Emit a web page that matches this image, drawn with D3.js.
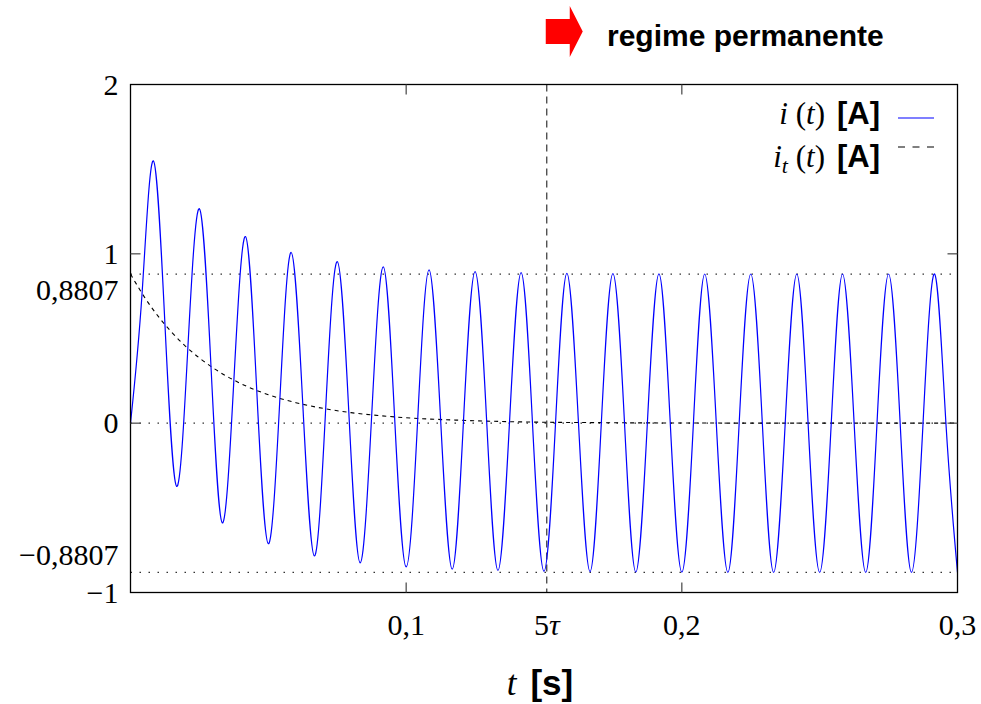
<!DOCTYPE html>
<html>
<head>
<meta charset="utf-8">
<script src="https://cdn.jsdelivr.net/npm/d3@7"></script>
<style>
  body { margin: 0; background: #fff; }
  .num { font-family: "Liberation Serif", "DejaVu Serif", serif; font-size: 30px; fill: #000; }
  .sansb { font-family: "Liberation Sans", "DejaVu Sans", sans-serif; font-weight: bold; }
</style>
</head>
<body>
<div id="chart"></div>
<script>
// Data
// i(t): samples every quarter period (60 Hz), [t (s), i (A)]
const currentPts = [
  [0, 0], [0.0042, 0.767], [0.0083, 1.549], [0.0125, 0.582],
  [0.0167, -0.373], [0.0208, 0.442], [0.025, 1.266], [0.0292, 0.335],
  [0.0333, -0.589], [0.0375, 0.254], [0.0417, 1.102], [0.0458, 0.193],
  [0.05, -0.712], [0.0542, 0.147], [0.0583, 1.008], [0.0625, 0.111],
  [0.0667, -0.784], [0.0708, 0.084], [0.075, 0.954], [0.0792, 0.064],
  [0.0833, -0.825], [0.0875, 0.049], [0.0917, 0.923], [0.0958, 0.037],
  [0.1, -0.849], [0.1042, 0.028], [0.1083, 0.905], [0.1125, 0.021],
  [0.1167, -0.862], [0.1208, 0.016], [0.125, 0.895], [0.1292, 0.012],
  [0.1333, -0.870], [0.1375, 0.009], [0.1417, 0.889], [0.1458, 0.007],
  [0.15, -0.875], [0.1542, 0.005], [0.1583, 0.885], [0.1625, 0.004],
  [0.1667, -0.877], [0.1708, 0.003], [0.175, 0.883], [0.1792, 0.002],
  [0.1833, -0.879], [0.1875, 0.002], [0.1917, 0.882], [0.1958, 0.001],
  [0.2, -0.880], [0.2042, 0], [0.2083, 0.881], [0.2125, 0],
  [0.2167, -0.881], [0.2208, 0], [0.225, 0.881], [0.2292, 0],
  [0.2333, -0.881], [0.2375, 0], [0.2417, 0.881], [0.2458, 0],
  [0.25, -0.881], [0.2542, 0], [0.2583, 0.881], [0.2625, 0],
  [0.2667, -0.881], [0.2708, 0], [0.275, 0.881], [0.2792, 0],
  [0.2833, -0.881], [0.2875, 0], [0.2917, 0.881], [0.2958, 0],
  [0.3, -0.881]
];

// i_t(t): transient (dashed)
const transientPts = [
  [0, 0.881], [0.005, 0.746], [0.01, 0.632], [0.015, 0.536], [0.02, 0.454],
  [0.03, 0.326], [0.04, 0.234], [0.05, 0.168], [0.06, 0.121], [0.07, 0.087],
  [0.08, 0.062], [0.09, 0.045], [0.1, 0.032], [0.12, 0.017], [0.14, 0.008],
  [0.17, 0.003], [0.2, 0.001], [0.25, 0], [0.3, 0]
];

const refLevels = [0.8807, 0, -0.8807];   // dotted horizontal lines
const fiveTau = 0.151;                     // 5 tau marker
const xTicks = [0.1, 0.2, 0.3];
const xTickLabels = ['0,1', '0,2', '0,3'];
const yTicks = [2, 1, 0, -1];
const yTickLabels = ['2', '1', '0', '\u22121'];

const width = 981, height = 704;
const margin = { left: 130.5, right: 23.5, top: 84.5, bottom: 111.5 };

const svg = d3.select('#chart').append('svg')
  .attr('width', width)
  .attr('height', height);

const x = d3.scaleLinear().domain([0, 0.3]).range([margin.left, width - margin.right]);
const y = d3.scaleLinear().domain([-1, 2]).range([height - margin.bottom, margin.top]);

// Dotted reference lines
svg.selectAll('.ref')
  .data(refLevels)
  .join('line')
  .attr('class', 'ref')
  .attr('x1', x(0)).attr('x2', x(0.3))
  .attr('y1', d => y(d)).attr('y2', d => y(d))
  .attr('stroke', '#333')
  .attr('stroke-width', 1.3)
  .attr('stroke-dasharray', '1.5,7.5');

// 5 tau vertical dashed line
svg.append('line')
  .attr('x1', x(fiveTau)).attr('x2', x(fiveTau))
  .attr('y1', y(2)).attr('y2', y(-1))
  .attr('stroke', '#333')
  .attr('stroke-width', 1.2)
  .attr('stroke-dasharray', '7,5');

// Transient curve
const line = d3.line().x(d => x(d[0])).y(d => y(d[1]));
svg.append('path')
  .datum(transientPts)
  .attr('d', line.curve(d3.curveMonotoneX))
  .attr('fill', 'none')
  .attr('stroke', '#000')
  .attr('stroke-width', 1.1)
  .attr('stroke-dasharray', '4,4');

// Current
svg.append('path')
  .datum(currentPts)
  .attr('d', d3.line().x(d => x(d[0])).y(d => y(d[1])).curve(d3.curveNatural))
  .attr('fill', 'none')
  .attr('stroke', '#0000ff')
  .attr('stroke-width', 1.2);

// Frame
svg.append('rect')
  .attr('x', x(0)).attr('y', y(2))
  .attr('width', x(0.3) - x(0)).attr('height', y(-1) - y(2))
  .attr('fill', 'none')
  .attr('stroke', '#000')
  .attr('stroke-width', 1.3);

// Ticks (inward, on all sides)
const tickLen = 10;
const tickG = svg.append('g').attr('stroke', '#444').attr('stroke-width', 1.2);
[0.1, 0.2].forEach(v => {
  tickG.append('line').attr('x1', x(v)).attr('x2', x(v)).attr('y1', y(-1)).attr('y2', y(-1) - tickLen);
  tickG.append('line').attr('x1', x(v)).attr('x2', x(v)).attr('y1', y(2)).attr('y2', y(2) + tickLen);
});
[1, 0].forEach(v => {
  tickG.append('line').attr('x1', x(0)).attr('x2', x(0) + tickLen).attr('y1', y(v)).attr('y2', y(v));
  tickG.append('line').attr('x1', x(0.3)).attr('x2', x(0.3) - tickLen).attr('y1', y(v)).attr('y2', y(v));
});

// Y tick labels
svg.selectAll('.ylab')
  .data(yTicks)
  .join('text')
  .attr('class', 'num ylab')
  .attr('x', x(0) - 12)
  .attr('y', d => y(d))
  .attr('dy', '0.34em')
  .attr('text-anchor', 'end')
  .text((d, i) => yTickLabels[i]);

// 0,8807 labels (nudged off the 1 / -1 labels)
svg.append('text').attr('class', 'num')
  .attr('x', x(0) - 12).attr('y', y(0.8807) + 16).attr('dy', '0.34em')
  .attr('text-anchor', 'end').text('0,8807');
svg.append('text').attr('class', 'num')
  .attr('x', x(0) - 12).attr('y', y(-0.8807) - 17).attr('dy', '0.34em')
  .attr('text-anchor', 'end').text('\u22120,8807');

// X tick labels
svg.selectAll('.xlab')
  .data(xTicks)
  .join('text')
  .attr('class', 'num xlab')
  .attr('x', d => x(d))
  .attr('y', y(-1) + 42)
  .attr('text-anchor', 'middle')
  .text((d, i) => xTickLabels[i]);

const tauLab = svg.append('text').attr('class', 'num')
  .attr('x', x(fiveTau)).attr('y', y(-1) + 42)
  .attr('text-anchor', 'middle');
tauLab.append('tspan').text('5');
tauLab.append('tspan').attr('font-style', 'italic').text('\u03c4');

// X axis title
const xt = svg.append('text')
  .attr('x', (x(0) + x(0.3)) / 2 - 4)
  .attr('y', 695)
  .attr('text-anchor', 'middle')
  .attr('font-size', 35);
xt.append('tspan').attr('font-family', 'Liberation Serif, serif').attr('font-style', 'italic').text('t');
xt.append('tspan').attr('class', 'sansb').attr('dx', 14).text('[s]');

// Legend
const legendX = 880;
const leg1 = svg.append('text').attr('x', legendX).attr('y', 124)
  .attr('text-anchor', 'end').attr('font-size', 31).attr('font-family', 'Liberation Serif, serif');
leg1.append('tspan').attr('font-style', 'italic').text('i');
leg1.append('tspan').text(' (');
leg1.append('tspan').attr('font-style', 'italic').text('t');
leg1.append('tspan').text(')');
leg1.append('tspan').attr('class', 'sansb').attr('dx', 12).text('[A]');

const leg2 = svg.append('text').attr('x', legendX).attr('y', 167)
  .attr('text-anchor', 'end').attr('font-size', 31).attr('font-family', 'Liberation Serif, serif');
leg2.append('tspan').attr('font-style', 'italic').text('i');
leg2.append('tspan').attr('font-style', 'italic').attr('font-size', 22).attr('dy', 6).text('t');
leg2.append('tspan').attr('dy', -6).text(' (');
leg2.append('tspan').attr('font-style', 'italic').text('t');
leg2.append('tspan').text(')');
leg2.append('tspan').attr('class', 'sansb').attr('dx', 12).text('[A]');

svg.append('line').attr('x1', 898).attr('x2', 934).attr('y1', 118).attr('y2', 118)
  .attr('stroke', '#0000ff').attr('stroke-width', 1.2);
svg.append('line').attr('x1', 898).attr('x2', 934).attr('y1', 147).attr('y2', 147)
  .attr('stroke', '#000').attr('stroke-width', 1.1).attr('stroke-dasharray', '7,7.5');

// Steady-state marker: red arrow + label above the 5 tau line
const ax = x(fiveTau) - 1;
svg.append('path')
  .attr('d', `M${ax},19 H${ax + 24} V6 L${ax + 37},31.5 L${ax + 24},57 V44 H${ax} Z`)
  .attr('fill', '#ff0000');
svg.append('text')
  .attr('class', 'sansb')
  .attr('x', 607).attr('y', 46)
  .attr('font-size', 30)
  .text('regime permanente');
</script>
</body>
</html>
